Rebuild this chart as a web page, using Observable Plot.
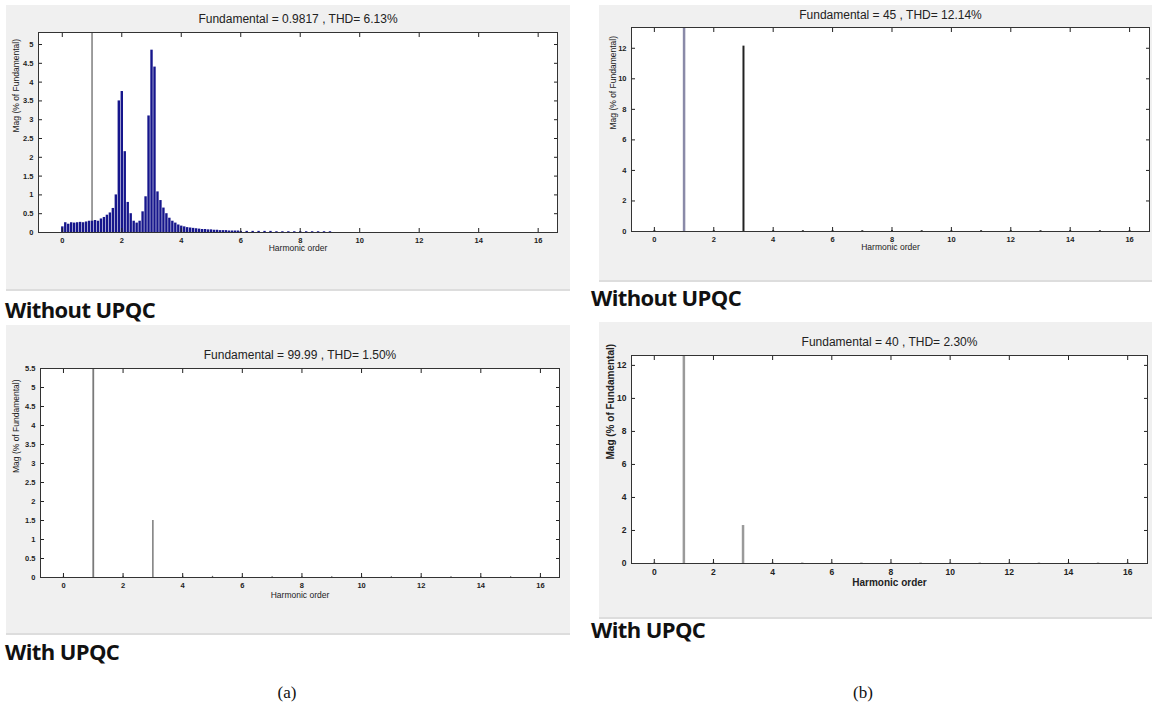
<!DOCTYPE html>
<html><head><meta charset="utf-8">
<script src="https://cdn.jsdelivr.net/npm/d3@7"></script>
<script src="https://cdn.jsdelivr.net/npm/@observablehq/plot@0.6"></script>
<style>
body{margin:0;background:#fff;}
#root{position:relative;width:1152px;height:717px;overflow:hidden;background:#fff;}
.panel{position:absolute;background:#f0f0f0;border-bottom:2px solid #dddddd;}
.panel svg{display:block;}
.cap{position:absolute;font-family:"Open Sans",sans-serif;font-weight:700;font-size:22px;letter-spacing:-0.6px;color:#111;white-space:nowrap;line-height:1;}
.sub{position:absolute;font-family:"Liberation Serif",serif;font-size:17px;color:#111;line-height:1;transform:translateX(-50%);}
</style></head><body><div id="root"></div>
<script>
// ---------- data ----------
const harmonicTicks = [0, 2, 4, 6, 8, 10, 12, 14, 16];
const yTicksA1 = [0, 0.5, 1, 1.5, 2, 2.5, 3, 3.5, 4, 4.5, 5];
const yTicksA2 = [0, 0.5, 1, 1.5, 2, 2.5, 3, 3.5, 4, 4.5, 5, 5.5];
const yTicksB = [0, 2, 4, 6, 8, 10, 12];

// (a) without UPQC: spectrum (harmonic order, % of fundamental)
const orderA1 = [0.0,0.1,0.2,0.3,0.4,0.5,0.6,0.7,0.8,0.9,1.0,1.1,1.2,1.3,1.4,1.5,1.6,1.7,1.8,1.9,
  2.0,2.1,2.2,2.3,2.4,2.5,2.6,2.7,2.8,2.9,3.0,3.1,3.2,3.3,3.4,3.5,3.6,3.7,3.8,3.9,
  4.0,4.1,4.2,4.3,4.4,4.5,4.6,4.7,4.8,4.9,5.0,5.1,5.2,5.3,5.4,5.5,5.6,5.7,5.8,5.9,
  6.0,6.2,6.4,6.6,6.8,7.0,7.2,7.4,7.6,7.8,8.0,8.2,8.4,8.6,8.8,9.0];
const magA1 = [0.15,0.26,0.22,0.26,0.25,0.26,0.27,0.26,0.28,0.30,0.30,0.32,0.30,0.36,0.40,0.46,0.52,0.64,1.00,3.50,
  3.75,2.15,0.80,0.50,0.30,0.25,0.30,0.55,0.95,3.10,4.85,4.40,1.08,0.85,0.65,0.50,0.38,0.30,0.25,0.20,
  0.17,0.15,0.13,0.12,0.11,0.10,0.09,0.08,0.08,0.07,0.07,0.06,0.06,0.05,0.05,0.05,0.04,0.04,0.04,0.04,
  0.03,0.03,0.03,0.03,0.03,0.03,0.02,0.02,0.02,0.02,0.02,0.02,0.02,0.02,0.02,0.02];
const fundOrder = [1];
const fundMag = [100];

// (a) with UPQC
const orderA2 = [0,1,2,3,4,5,6,7,8,9,10,11,12,13,14,15,16];
const magA2 = [0.03,100,0.03,1.50,0.03,0.03,0.02,0.02,0.02,0.02,0.02,0.02,0.02,0.02,0.02,0.02,0.02];

// (b) without UPQC
const orderB1 = [0,1,2,3,4,5,6,7,8,9,10,11,12,13,14,15,16];
const magB1 = [0.05,100,0.05,12.14,0.05,0.05,0.05,0.05,0.05,0.05,0.05,0.05,0.05,0.05,0.05,0.05,0.05];

// (b) with UPQC
const orderB2 = [0,1,2,3,4,5,6,7,8,9,10,11,12,13,14,15,16];
const magB2 = [0.03,100,0.03,2.30,0.03,0.03,0.03,0.03,0.03,0.03,0.03,0.03,0.03,0.03,0.03,0.03,0.03];

const titles = [
  "Fundamental = 0.9817 , THD= 6.13%",
  "Fundamental = 45 , THD= 12.14%",
  "Fundamental = 99.99 , THD= 1.50%",
  "Fundamental = 40 , THD= 2.30%"
];
const xLabel = "Harmonic order";
const yLabel = "Mag (% of Fundamental)";
const captions = ["Without UPQC", "Without UPQC", "With UPQC", "With UPQC"];
const subLabels = ["(a)", "(b)"];

const zip = (xs, ys) => xs.map((h, i) => ({h, m: ys[i]}));
const fmt = d => String(d);

// ---------- panel builder ----------
const root = document.getElementById("root");
function panel(cfg) {
  const div = document.createElement("div");
  div.className = "panel";
  Object.assign(div.style, {left: cfg.left + "px", top: cfg.top + "px", width: cfg.width + "px", height: cfg.height + "px"});
  const tk = {fontSize: cfg.tickFont, fontWeight: "bold", fill: "#222"};
  const chart = Plot.plot({
    width: cfg.width, height: cfg.height,
    marginLeft: cfg.ml, marginTop: cfg.mt, marginRight: cfg.mr, marginBottom: cfg.mb,
    x: {domain: cfg.xDomain},
    y: {domain: cfg.yDomain},
    style: {background: "transparent", fontFamily: "'Liberation Sans', Arial, sans-serif", color: "#222"},
    marks: [
      Plot.frame({fill: "white", stroke: null}),
      ...cfg.bars,
      Plot.axisX(harmonicTicks, {anchor: "bottom", tickSize: -4, tickPadding: 9, tickFormat: fmt, label: null, ...tk}),
      Plot.axisX(harmonicTicks, {anchor: "top", tickSize: -4, tickFormat: () => "", label: null}),
      Plot.axisY(cfg.yTicks, {anchor: "left", tickSize: -4, tickPadding: 9, tickFormat: fmt, label: null, ...tk}),
      Plot.axisY(cfg.yTicks, {anchor: "right", tickSize: -4, tickFormat: () => "", label: null}),
      Plot.frame({stroke: "#333", strokeWidth: 1}),
      Plot.text([cfg.title], {frameAnchor: "top", dy: cfg.titleDy, text: d => d, fontSize: 12, lineAnchor: "middle", fill: "#222"}),
      Plot.text([xLabel], {frameAnchor: "bottom", dy: cfg.xlDy, text: d => d, fontSize: cfg.labelFont, fontWeight: cfg.labelWeight, lineAnchor: "middle", fill: "#222"}),
      Plot.text([yLabel], {frameAnchor: "left", dx: cfg.ylDx, rotate: -90, text: d => d, fontSize: cfg.labelFont, fontWeight: cfg.labelWeight, lineAnchor: "middle", fill: "#222"})
    ]
  });
  div.appendChild(chart);
  root.appendChild(div);
}

// (a) top
panel({
  left: 6, top: 5, width: 564, height: 284, ml: 32, mt: 27, mr: 13, mb: 57,
  xDomain: [-0.8, 16.65], yDomain: [0, 5.32], yTicks: yTicksA1,
  title: titles[0], titleDy: -13, xlDy: 16, ylDx: -22, tickFont: 7.5, labelFont: 8.5, labelWeight: "normal",
  bars: [
    Plot.ruleX(zip(fundOrder, fundMag), {x: "h", y1: 0, y2: "m", stroke: "#6a6a6a", strokeWidth: 1.3, clip: true}),
    Plot.ruleX(zip(orderA1, magA1), {x: "h", y1: 0, y2: "m", stroke: "#16168c", strokeWidth: 2.4, clip: true})
  ]
});

// (b) top
panel({
  left: 599, top: 5, width: 553, height: 275, ml: 32, mt: 22, mr: 3, mb: 49,
  xDomain: [-0.77, 16.67], yDomain: [0, 13.36], yTicks: yTicksB,
  title: titles[1], titleDy: -12, xlDy: 16, ylDx: -18, tickFont: 7.5, labelFont: 8.5, labelWeight: "normal",
  bars: [
    Plot.ruleX(zip(orderB1, magB1), {x: "h", y1: 0, y2: "m", stroke: d => d.h === 1 ? "#8a8aa8" : "#222", strokeWidth: d => d.h === 1 ? 2.5 : 2, clip: true})
  ]
});

// (a) bottom
panel({
  left: 6, top: 325, width: 564, height: 308, ml: 34, mt: 43, mr: 11, mb: 56,
  xDomain: [-0.77, 16.64], yDomain: [0, 5.5], yTicks: yTicksA2,
  title: titles[2], titleDy: -13, xlDy: 18, ylDx: -24, tickFont: 7.5, labelFont: 8.5, labelWeight: "normal",
  bars: [
    Plot.ruleX(zip(orderA2, magA2), {x: "h", y1: 0, y2: "m", stroke: d => d.h === 1 ? "#7a7a7a" : "#666", strokeWidth: d => d.h === 1 ? 1.8 : 1.3, clip: true})
  ]
});

// (b) bottom
panel({
  left: 599, top: 322, width: 553, height: 295, ml: 32, mt: 33, mr: 5, mb: 54,
  xDomain: [-0.77, 16.67], yDomain: [0, 12.6], yTicks: yTicksB,
  title: titles[3], titleDy: -13, xlDy: 19, ylDx: -21, tickFont: 8.5, labelFont: 10, labelWeight: "bold",
  bars: [
    Plot.ruleX(zip(orderB2, magB2), {x: "h", y1: 0, y2: "m", stroke: "#9a9a9a", strokeWidth: 2.5, clip: true})
  ]
});

// captions
const capPos = [[5, 298], [591, 286], [5, 640], [591, 618]];
captions.forEach((t, i) => {
  const d = document.createElement("div");
  d.className = "cap"; d.textContent = t;
  d.style.left = capPos[i][0] + "px"; d.style.top = capPos[i][1] + "px";
  root.appendChild(d);
});
const subPos = [[287, 684], [863, 684]];
subLabels.forEach((t, i) => {
  const d = document.createElement("div");
  d.className = "sub"; d.textContent = t;
  d.style.left = subPos[i][0] + "px"; d.style.top = subPos[i][1] + "px";
  root.appendChild(d);
});
</script></body></html>
